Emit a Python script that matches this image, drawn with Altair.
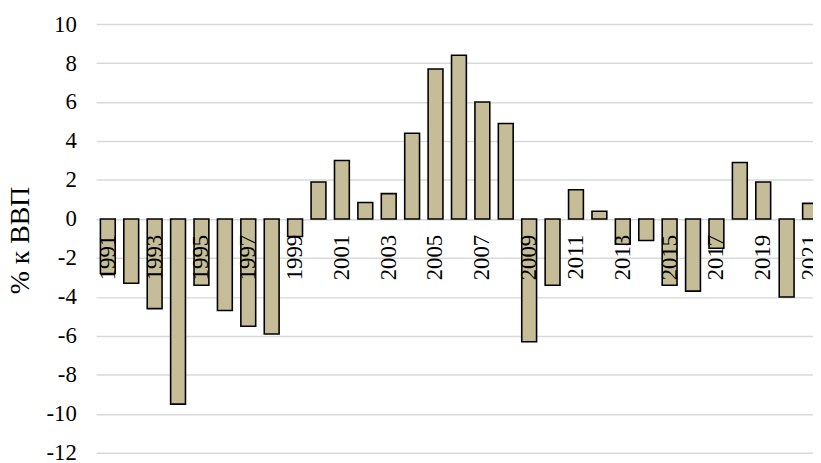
import altair as alt
import pandas as pd

years = list(range(1991, 2022))
values = [-2.8, -3.3, -4.6, -9.5, -3.4, -4.7, -5.5, -5.9, -0.9, 1.9,
          3.0, 0.85, 1.3, 4.4, 7.7, 8.4, 6.0, 4.9, -6.3, -3.4,
          1.5, 0.4, -1.3, -1.1, -3.4, -3.7, -1.5, 2.9, 1.9, -4.0, 0.8]
y_ticks = [10, 8, 6, 4, 2, 0, -2, -4, -6, -8, -10, -12]

df = pd.DataFrame({"year": years, "value": values})
df["label"] = df["year"].astype(str)
df["zero"] = 0

FONT = "Liberation Serif"
x_scale = alt.Scale(domain=[1990.5, 2021.126], nice=False, zero=False)
y_scale = alt.Scale(domain=[-12, 10], nice=False, zero=False)
y_axis = alt.Axis(values=y_ticks, title="% к ВВП", ticks=False, domain=False,
                  grid=True, gridColor="#d9d9d9", gridWidth=1.5,
                  labelOverlap=False,
                  labelExpr="datum.value < 0 ? '-' + abs(datum.value) : '' + datum.value",
                  labelFont=FONT, labelFontSize=23, labelColor="#000000",
                  labelPadding=20,
                  titleFont=FONT, titleFontSize=28, titleFontWeight="normal",
                  titleColor="#000000", titleAngle=-90, titleX=-76, titleY=218,
                  titleAlign="center", titleBaseline="middle")

base = alt.Chart(df)

bars = base.transform_calculate(
    x0="datum.year - 0.317", x1="datum.year + 0.317"
).mark_bar(
    fill="#C4BD97", stroke="#000000", strokeWidth=1.6, clip=True
).encode(
    x=alt.X("x0:Q", scale=x_scale, axis=None),
    x2="x1:Q",
    y=alt.Y("value:Q", scale=y_scale, axis=y_axis, title="% к ВВП"),
    y2="zero:Q",
)

labels = base.transform_filter("datum.year % 2 == 1").mark_text(
    angle=270, align="right", baseline="middle", dx=-16,
    font=FONT, fontSize=23, color="#000000", clip=True
).encode(
    x=alt.X("year:Q", scale=x_scale, axis=None),
    y=alt.Y("zero:Q", scale=y_scale, axis=y_axis, title="% к ВВП"),
    text="label:N",
)

chart = alt.layer(bars, labels).properties(
    width=724, height=433,
    autosize=alt.AutoSizeParams(type="none"),
    padding={"left": 89, "top": 14, "right": 0, "bottom": 8},
).configure_view(stroke=None)

chart.save("out.html", embed_options={"renderer": "svg", "actions": False})
